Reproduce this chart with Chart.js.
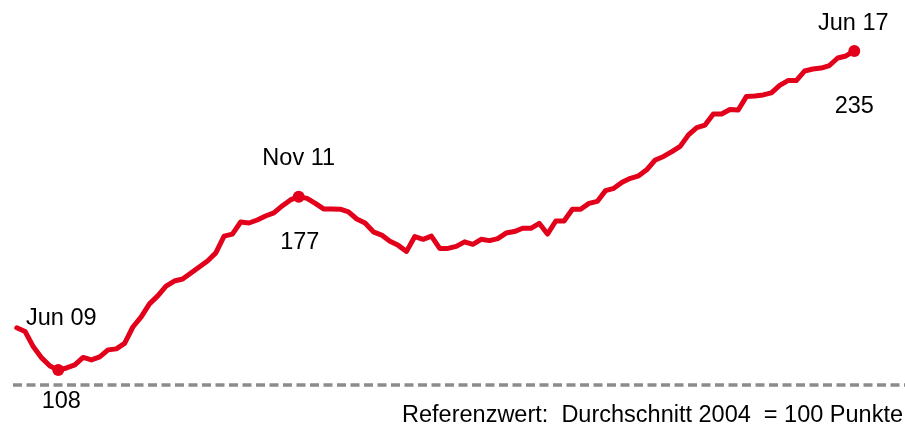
<!DOCTYPE html>
<html>
<head>
<meta charset="utf-8">
<script src="https://cdn.jsdelivr.net/npm/chart.js@4/dist/chart.umd.min.js"></script>
<style>
  html, body { margin: 0; padding: 0; background: #ffffff; }
  #wrap { width: 905px; height: 425px; }
</style>
</head>
<body>
<div id="wrap"><canvas id="c" width="905" height="425"></canvas></div>
<script>
// Months Jan 2009 .. Jun 2017
const months = [
  "Jan 09","Feb 09","Mär 09","Apr 09","Mai 09","Jun 09","Jul 09","Aug 09","Sep 09","Okt 09","Nov 09","Dez 09",
  "Jan 10","Feb 10","Mär 10","Apr 10","Mai 10","Jun 10","Jul 10","Aug 10","Sep 10","Okt 10","Nov 10","Dez 10",
  "Jan 11","Feb 11","Mär 11","Apr 11","Mai 11","Jun 11","Jul 11","Aug 11","Sep 11","Okt 11","Nov 11","Dez 11",
  "Jan 12","Feb 12","Mär 12","Apr 12","Mai 12","Jun 12","Jul 12","Aug 12","Sep 12","Okt 12","Nov 12","Dez 12",
  "Jan 13","Feb 13","Mär 13","Apr 13","Mai 13","Jun 13","Jul 13","Aug 13","Sep 13","Okt 13","Nov 13","Dez 13",
  "Jan 14","Feb 14","Mär 14","Apr 14","Mai 14","Jun 14","Jul 14","Aug 14","Sep 14","Okt 14","Nov 14","Dez 14",
  "Jan 15","Feb 15","Mär 15","Apr 15","Mai 15","Jun 15","Jul 15","Aug 15","Sep 15","Okt 15","Nov 15","Dez 15",
  "Jan 16","Feb 16","Mär 16","Apr 16","Mai 16","Jun 16","Jul 16","Aug 16","Sep 16","Okt 16","Nov 16","Dez 16",
  "Jan 17","Feb 17","Mär 17","Apr 17","Mai 17","Jun 17"
];

const indexValues = [
  124.8,123.3,117.2,112.8,109.6,108.0,108.8,110.0,113.0,112.0,113.2,116.0,
  116.4,118.6,125.1,129.1,134.3,137.5,141.4,143.4,144.2,146.6,149.0,151.4,
  154.6,161.3,162.1,166.9,166.5,167.7,169.3,170.5,173.3,175.7,177.0,176.3,
  174.3,172.1,172.1,172.0,170.9,168.1,166.5,163.0,161.7,159.2,157.6,155.2,
  161.1,160.0,161.3,156.4,156.4,157.2,159.0,158.0,160.0,159.5,160.3,162.5,
  163.1,164.4,164.4,166.4,162.1,167.3,167.3,172.0,172.0,174.3,175.1,179.4,
  180.3,182.7,184.3,185.3,187.8,191.6,193.0,194.9,197.0,201.6,204.5,205.5,
  209.9,209.9,211.7,211.5,216.9,217.1,217.5,218.3,221.3,223.2,223.2,227.0,
  227.8,228.2,229.2,232.2,233.0,235.0
];

// Highlighted points with their labels
const highlightMonths = ["Jun 09", "Nov 11", "Jun 17"];
const highlightValueLabels = ["108", "177", "235"];

const baselineValue = 102;
const footnote = "Referenzwert:  Durchschnitt 2004  = 100 Punkte";

const RED = "#e2001a";
const FONT = '"Liberation Sans", Arial, Helvetica, sans-serif';

const hlIdx = highlightMonths.map(m => months.indexOf(m));
const radii = months.map((m, i) => hlIdx.includes(i) ? 6 : 0);

// label placement offsets (relative to the point pixel)
const labelStyle = [
  { dateDx: 3,  dateDy: -45,  valDx: 3,  valDy: 38.5 },
  { dateDx: 0,  dateDy: -32,  valDx: 1,  valDy: 52 },
  { dateDx: -1, dateDy: -21,  valDx: 0,  valDy: 62 }
];

const annot = {
  id: "annot",
  beforeDatasetsDraw(chart) {
    const ctx = chart.ctx;
    const y = chart.scales.y.getPixelForValue(baselineValue);
    ctx.save();
    ctx.strokeStyle = "#8c8c8c";
    ctx.lineWidth = 3.5;
    ctx.setLineDash([9, 4.5]);
    ctx.beginPath();
    ctx.moveTo(13, y);
    ctx.lineTo(chart.width, y);
    ctx.stroke();
    ctx.restore();
  },
  afterDatasetsDraw(chart) {
    const ctx = chart.ctx;
    const meta = chart.getDatasetMeta(0);
    ctx.save();
    ctx.fillStyle = "#000";
    ctx.font = "23.5px " + FONT;
    ctx.textAlign = "center";
    ctx.textBaseline = "alphabetic";
    hlIdx.forEach((idx, k) => {
      const p = meta.data[idx];
      const s = labelStyle[k];
      ctx.fillText(highlightMonths[k], p.x + s.dateDx, p.y + s.dateDy);
      ctx.fillText(highlightValueLabels[k], p.x + s.valDx, p.y + s.valDy);
    });
    ctx.textAlign = "right";
    ctx.fillText(footnote, 903, 422);
    ctx.restore();
  }
};

new Chart(document.getElementById("c"), {
  type: "line",
  data: {
    labels: months,
    datasets: [{
      data: indexValues,
      borderColor: RED,
      backgroundColor: RED,
      borderWidth: 5,
      tension: 0,
      pointRadius: radii,
      pointHoverRadius: radii,
      pointBorderWidth: 0,
      pointBackgroundColor: RED,
      borderJoinStyle: "round",
      borderCapStyle: "round",
      fill: false
    }]
  },
  options: {
    responsive: false,
    animation: false,
    devicePixelRatio: 1,
    layout: { padding: { left: 16.8, right: 50.7, top: 18.3, bottom: 24.9 } },
    plugins: { legend: { display: false }, tooltip: { enabled: false } },
    scales: {
      x: { type: "category", display: false, offset: false },
      y: { type: "linear", display: false, min: 96, max: 248 }
    }
  },
  plugins: [annot]
});
</script>
</body>
</html>
